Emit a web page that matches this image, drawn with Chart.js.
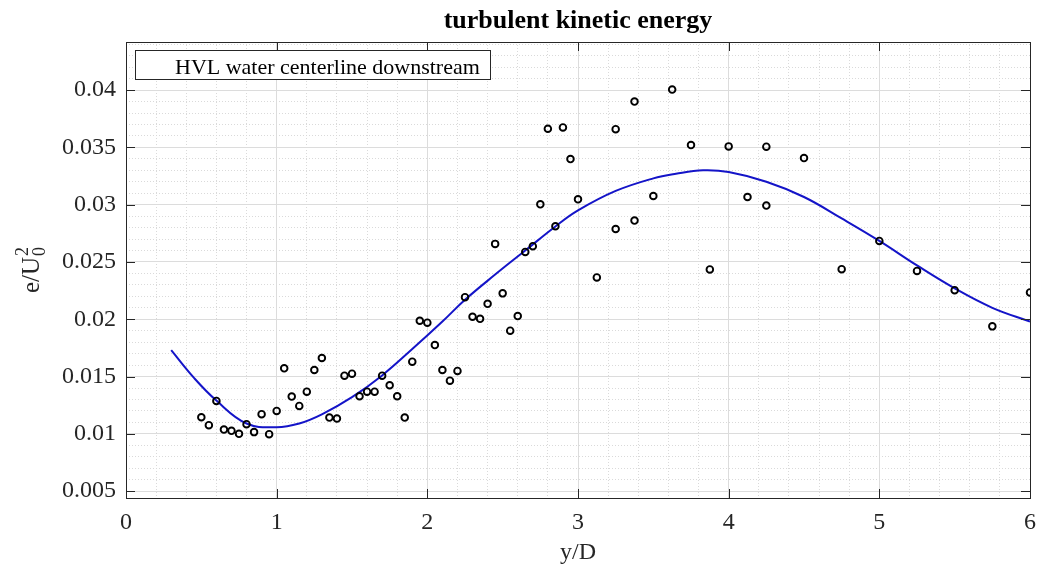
<!DOCTYPE html>
<html><head><meta charset="utf-8">
<script src="https://cdn.jsdelivr.net/npm/chart.js@4/dist/chart.umd.min.js"></script>
<style>html,body{margin:0;padding:0;background:#fff;overflow:hidden}</style>
</head><body>
<canvas id="c" width="1038" height="566"></canvas>
<script>
// ---- data ----
const measX = [0.5,0.55,0.6,0.65,0.7,0.75,0.8,0.85,0.9,0.95,1.0,1.05,1.1,1.15,1.2,1.25,1.3,1.35,1.4,1.45,1.5,1.55,1.6,1.65,1.7,1.75,1.8,1.85,1.9,1.95,2.0,2.05,2.1,2.15,2.2,2.25,2.3,2.35,2.4,2.45,2.5,2.55,2.6,2.65,2.7,2.75,2.8,2.85,2.9,2.95,3.0,3.125,3.25,3.25,3.375,3.375,3.5,3.625,3.75,3.875,4.0,4.125,4.25,4.25,4.5,4.75,5.0,5.25,5.5,5.75,6.0];
const measY = [0.01145,0.01076,0.01287,0.01037,0.01026,0.0100,0.01084,0.01015,0.01172,0.00997,0.0120,0.01572,0.01325,0.01244,0.01368,0.01557,0.01662,0.01142,0.01133,0.01508,0.01525,0.01328,0.01368,0.01368,0.01508,0.01424,0.01328,0.01142,0.0163,0.01987,0.0197,0.01775,0.01557,0.01464,0.01549,0.02193,0.02022,0.02004,0.02135,0.02658,0.02226,0.0190,0.02028,0.02588,0.02638,0.03003,0.03663,0.02812,0.03674,0.03398,0.03047,0.02365,0.03659,0.02788,0.0390,0.02861,0.03076,0.04005,0.0352,0.02435,0.03509,0.03067,0.03506,0.02992,0.03407,0.02437,0.02684,0.02422,0.02254,0.01938,0.02234];
const fitX = [0.3,0.45,0.6,0.8,1.0,1.15,1.3,1.5,1.7,1.9,2.1,2.25,2.45,2.65,2.85,3.0,3.25,3.5,3.65,3.83,4.0,4.25,4.5,4.75,5.0,5.25,5.5,5.75,6.0];
const fitY = [0.0173,0.0149,0.0129,0.0109,0.01058,0.0109,0.0117,0.0132,0.0151,0.0174,0.0198,0.0217,0.0239,0.0260,0.0281,0.0295,0.0312,0.0323,0.0327,0.0330,0.03285,0.0320,0.03067,0.0288,0.02684,0.0247,0.0227,0.0210,0.0198];
const xRange = [0, 6];
const yRange = [0.0044, 0.0442];
const xStep = 1, xMinorStep = 0.2;
const yStep = 0.005, yMinorStep = 0.001;
const titleText = 'turbulent kinetic energy';
const legendText = 'HVL water centerline downstream';
const xLabel = 'y/D';
const yLabelMain = 'e/U', yLabelSup = '2', yLabelSub = '0';

const FONT = '"Liberation Serif","Times New Roman",serif';
const AX = '#262626';

const framePlugin = {
  id: 'frame',
  afterDraw(chart) {
    const c = chart.ctx, a = chart.chartArea;
    const xs = chart.scales.x, ys = chart.scales.y;
    c.save();
    // frame box
    c.strokeStyle = AX; c.lineWidth = 1;
    c.strokeRect(Math.round(a.left) + 0.5, Math.round(a.top) + 0.5, Math.round(a.right - a.left), Math.round(a.bottom - a.top));
    // inner ticks
    const tl = 9;
    c.beginPath();
    ys.ticks.forEach(t => {
      const y = Math.round(ys.getPixelForValue(t.value)) + 0.5;
      c.moveTo(a.left, y); c.lineTo(a.left + tl, y);
      c.moveTo(a.right, y); c.lineTo(a.right - tl, y);
    });
    xs.ticks.forEach(t => {
      const x = Math.round(xs.getPixelForValue(t.value)) + 0.5;
      c.moveTo(x, a.top); c.lineTo(x, a.top + tl);
      c.moveTo(x, a.bottom); c.lineTo(x, a.bottom - tl);
    });
    c.stroke();
    // title
    const cx = (a.left + a.right) / 2;
    c.fillStyle = '#000';
    c.font = 'bold 26px ' + FONT;
    c.textAlign = 'center'; c.textBaseline = 'alphabetic';
    c.fillText(titleText, cx, 28);
    // x label
    c.fillStyle = AX;
    c.font = '24px ' + FONT;
    c.fillText(xLabel, cx, 559);
    // y label (rotated) with super/subscript
    c.save();
    const cy = (a.top + a.bottom) / 2;
    c.translate(39, cy);
    c.rotate(-Math.PI / 2);
    c.font = '25px ' + FONT;
    const wMain = c.measureText(yLabelMain).width;
    c.font = '18px ' + FONT;
    const wSmall = Math.max(c.measureText(yLabelSup).width, c.measureText(yLabelSub).width);
    const total = wMain + 1 + wSmall;
    let x0 = -total / 2;
    c.textAlign = 'left';
    c.font = '25px ' + FONT;
    c.fillText(yLabelMain, x0, 0);
    c.font = '18px ' + FONT;
    c.fillText(yLabelSup, x0 + wMain + 1, -11);
    c.fillText(yLabelSub, x0 + wMain + 1, 6);
    c.restore();
    // legend box
    const lx = 135.5, ly = 50.5, lw = 355, lh = 29;
    c.fillStyle = '#fff';
    c.fillRect(lx, ly, lw, lh);
    c.strokeStyle = AX; c.lineWidth = 1;
    c.strokeRect(lx, ly, lw, lh);
    c.fillStyle = '#000';
    c.font = '22px ' + FONT;
    c.textAlign = 'left';
    c.fillText(legendText, 175, 74);
    c.restore();
  }
};

new Chart(document.getElementById('c').getContext('2d'), {
  type: 'scatter',
  data: {
    datasets: [
      {
        label: legendText,
        data: measX.map((x, i) => ({ x, y: measY[i] })),
        showLine: false,
        pointRadius: 3.3,
        pointBorderWidth: 1.9,
        pointBorderColor: '#000',
        pointBackgroundColor: 'rgba(0,0,0,0)',
        order: 1
      },
      {
        label: 'fit',
        data: fitX.map((x, i) => ({ x, y: fitY[i] })),
        showLine: true,
        pointRadius: 0,
        borderColor: '#1414c8',
        borderWidth: 2,
        tension: 0.4,
        order: 2
      }
    ]
  },
  options: {
    responsive: false,
    animation: false,
    layout: { padding: { top: 42, right: 8, left: 0, bottom: 0 } },
    plugins: { legend: { display: false }, tooltip: { enabled: false }, title: { display: false } },
    scales: {
      xm: {
        type: 'linear', position: 'bottom', min: xRange[0], max: xRange[1],
        ticks: { display: false, stepSize: xMinorStep },
        grid: { color: '#dadada', drawTicks: false, z: -1 },
        border: { display: false, dash: [1, 2] },
        afterFit(s) { s.height = 0; s.paddingLeft = 0; s.paddingRight = 0; }
      },
      ym: {
        type: 'linear', position: 'left', min: yRange[0], max: yRange[1],
        ticks: { display: false, stepSize: yMinorStep, includeBounds: false },
        grid: { color: '#dadada', drawTicks: false, z: -1 },
        border: { display: false, dash: [1, 2] },
        afterFit(s) { s.width = 0; s.paddingTop = 0; s.paddingBottom = 0; }
      },
      x: {
        type: 'linear', position: 'bottom', min: xRange[0], max: xRange[1],
        ticks: { stepSize: xStep, color: AX, font: { family: FONT, size: 24 }, padding: 10, maxRotation: 0 },
        grid: { color: '#dcdcdc', drawTicks: false },
        border: { display: false },
        afterFit(s) { s.height = 68; s.paddingLeft = 0; s.paddingRight = 0; }
      },
      y: {
        type: 'linear', position: 'left', min: yRange[0], max: yRange[1],
        ticks: {
          stepSize: yStep, includeBounds: false, color: AX, font: { family: FONT, size: 24 }, padding: 10,
          callback: v => String(+v.toFixed(3))
        },
        grid: { color: '#dcdcdc', drawTicks: false },
        border: { display: false },
        afterFit(s) { s.width = 126; s.paddingTop = 0; s.paddingBottom = 0; }
      }
    }
  },
  plugins: [framePlugin]
});
</script>
</body></html>
